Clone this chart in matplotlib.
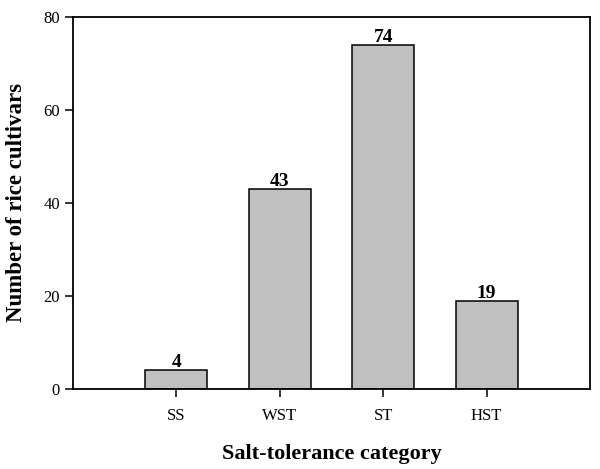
import numpy as np
import matplotlib
matplotlib.use('Agg')
import matplotlib.pyplot as plt

plt.rcParams['font.family'] = ['Liberation Serif', 'DejaVu Serif']

categories = ['SS', 'WST', 'ST', 'HST']
counts = [4, 43, 74, 19]

fig = plt.figure(figsize=(6, 4.69), dpi=100)
ax = fig.add_axes([0.1217, 0.1706, 0.8616, 0.7932])

x = np.arange(1, len(categories) + 1)
ax.bar(x, counts, width=0.6, color='#c0c0c0', edgecolor='black', linewidth=1.1)

# value labels sitting on the bar tops
for xi, v in zip(x, counts):
    ax.text(xi, v - 0.2, str(v), ha='center', va='bottom', fontsize=14, fontweight='bold')

ax.set_xlim(0, 5)
ax.set_ylim(0, 80)
ax.set_xticks(x)
ax.set_xticklabels(categories)
ax.set_yticks([0, 20, 40, 60, 80])
ax.tick_params(direction='out', length=6, width=1.1, labelsize=12)
ax.tick_params(axis='x', pad=8)
for s in ax.spines.values():
    s.set_linewidth(1.3)

ax.set_xlabel('Salt-tolerance category', fontsize=16, fontweight='bold', labelpad=14)
ax.set_ylabel('Number of rice cultivars', fontsize=16.5, fontweight='bold', labelpad=12)

fig.savefig('out.png', dpi=100)
